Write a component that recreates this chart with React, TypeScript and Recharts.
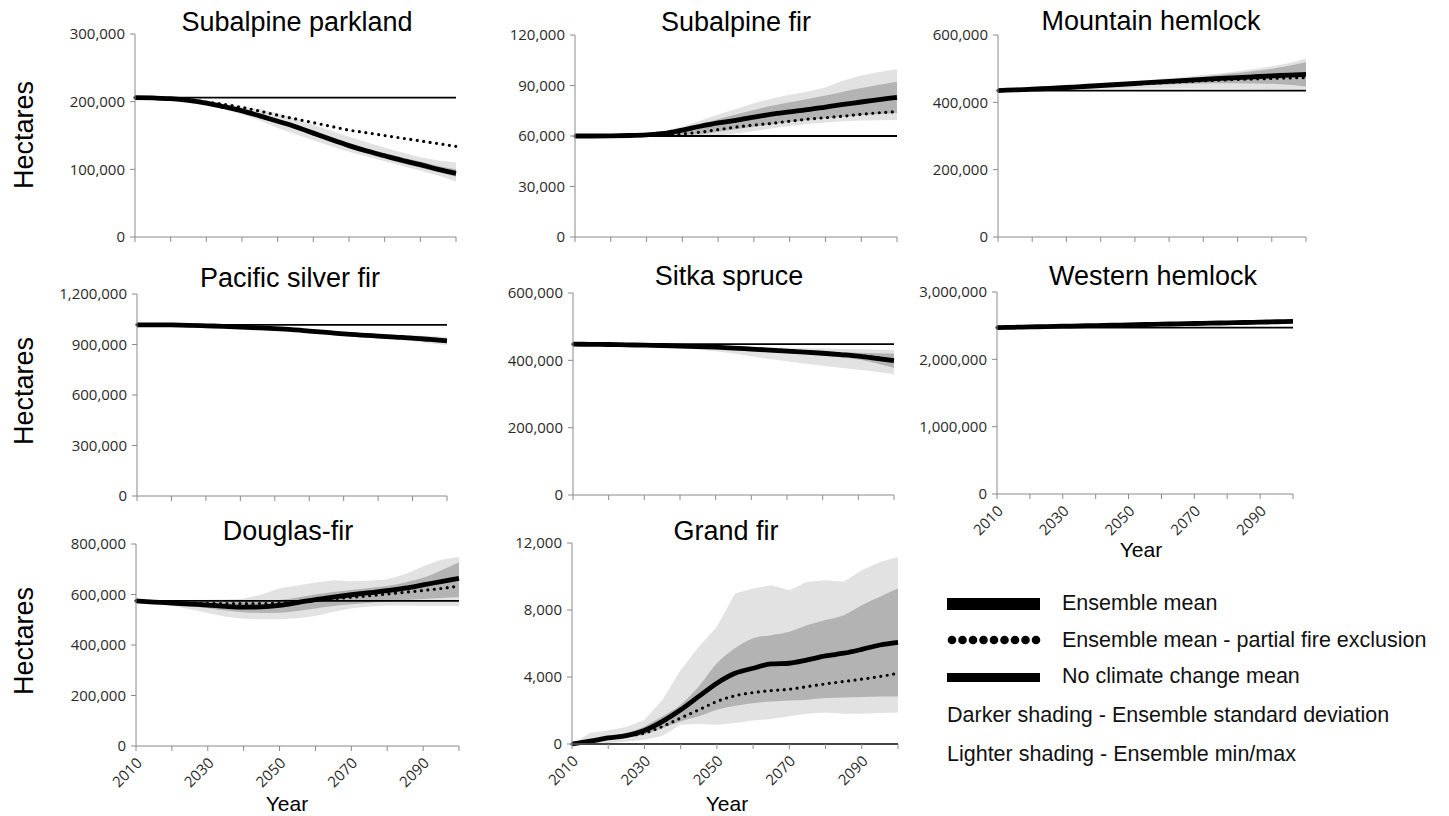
import { Area, ComposedChart, Line, ReferenceLine, XAxis, YAxis } from 'recharts';

const YEARS = [2010, 2015, 2020, 2025, 2030, 2035, 2040, 2045, 2050, 2055, 2060, 2065, 2070, 2075, 2080, 2085, 2090, 2095, 2100];
const YEAR_TICKS = [2010, 2020, 2030, 2040, 2050, 2060, 2070, 2080, 2090, 2100];
const LABELED_YEARS = [2010, 2030, 2050, 2070, 2090];

// Subalpine parkland (ha)
const SP_MEAN = [206000, 205500, 204500, 202000, 198000, 192500, 186500, 179000, 171000, 163000, 153500, 144000, 135000, 127000, 120000, 113000, 107000, 100000, 94000];
const SP_PARTIAL = [206000, 205500, 204500, 203000, 199500, 196000, 191500, 186000, 180000, 174500, 169000, 163500, 158000, 154000, 150000, 146000, 142000, 138000, 134000];
const SP_MIN = [206000, 205000, 203500, 200000, 195000, 188500, 181000, 172000, 161000, 152000, 143000, 134000, 126000, 119000, 112000, 105000, 98000, 91000, 82000];
const SP_MAX = [206000, 206000, 205500, 204000, 201000, 197000, 193000, 189000, 183000, 175000, 166000, 157000, 148000, 140000, 132000, 125000, 118000, 113000, 110000];
const SP_SD_LO = [206000, 205300, 204000, 201500, 197000, 191000, 184500, 176500, 168000, 159500, 150000, 140500, 131500, 123500, 116000, 109000, 102500, 96000, 89000];
const SP_SD_HI = [206000, 205700, 205000, 202500, 199000, 194000, 188500, 181500, 174000, 166500, 157500, 148000, 139000, 131000, 124000, 117500, 111500, 105000, 100000];
const SP_NO_CHANGE = 206000;

// Subalpine fir
const SF_MEAN = [60000, 60000, 60100, 60300, 60700, 61500, 63500, 65800, 67800, 69300, 71200, 73000, 74300, 75600, 77200, 78800, 80200, 81600, 83000];
const SF_PARTIAL = [60000, 60000, 60000, 60100, 60300, 60600, 61200, 62300, 63800, 65300, 66500, 67500, 68800, 70000, 70900, 71800, 72900, 73800, 74500];
const SF_MIN = [60000, 60000, 59900, 59800, 59700, 59600, 59500, 59800, 60300, 61500, 63000, 64500, 66000, 67200, 68000, 68700, 69200, 69400, 69500];
const SF_MAX = [60000, 60100, 60300, 60700, 61500, 63000, 65500, 69000, 72800, 76000, 79500, 82300, 84500, 86500, 88800, 93000, 96000, 98000, 99800];
const SF_SD_LO = [60000, 60000, 60000, 60100, 60300, 60600, 60800, 61000, 62500, 64000, 65500, 67000, 68300, 69500, 70500, 71400, 72300, 73000, 73700];
const SF_SD_HI = [60000, 60000, 60100, 60400, 60900, 61800, 64000, 67000, 70000, 72800, 75500, 78000, 80000, 82000, 84000, 86300, 88500, 90500, 92300];
const SF_NO_CHANGE = 60000;

// Mountain hemlock
const MH_MEAN = [435000, 437000, 439000, 441500, 444000, 447000, 450000, 453000, 456000, 459000, 462000, 465000, 468000, 471000, 473500, 476000, 478500, 481000, 483000];
const MH_PARTIAL = [435000, 437000, 439000, 441000, 443500, 446000, 449000, 451500, 454000, 456500, 459000, 461500, 464000, 466000, 468000, 469500, 471000, 472500, 473500];
const MH_MIN = [435000, 436000, 437000, 438000, 439000, 439500, 440000, 440500, 441000, 441000, 441000, 441000, 440500, 440000, 440000, 439500, 439000, 438500, 438000];
const MH_MAX = [435000, 437500, 440000, 443000, 446500, 450000, 454000, 458000, 462500, 467000, 471500, 476000, 481000, 486000, 492000, 499000, 507000, 516000, 530000];
const MH_SD_LO = [435000, 436500, 438000, 440000, 442000, 444000, 446000, 448000, 450000, 451500, 453000, 454500, 456000, 457000, 457000, 456000, 455000, 452000, 447000];
const MH_SD_HI = [435000, 437000, 439500, 442000, 445000, 448500, 452000, 455500, 459500, 463500, 468000, 472500, 477000, 482000, 487000, 493000, 500000, 509000, 519000];
const MH_NO_CHANGE = 435000;

// Pacific silver fir
const PSF_MEAN = [1017000, 1017000, 1016000, 1014000, 1011000, 1008000, 1004000, 999000, 994000, 988000, 980000, 972000, 963000, 956000, 950000, 944000, 938000, 930000, 922000];
const PSF_PARTIAL = [1017000, 1017000, 1016000, 1014000, 1011000, 1008000, 1004000, 999500, 995000, 989000, 981500, 974000, 965500, 958500, 953000, 947000, 941500, 934000, 926000];
const PSF_MIN = [1017000, 1016000, 1015000, 1013000, 1009000, 1005000, 1000000, 994000, 988000, 981000, 972000, 963000, 953000, 944000, 936000, 928000, 920000, 908000, 895000];
const PSF_MAX = [1017000, 1017000, 1017000, 1015000, 1013000, 1011000, 1008000, 1004000, 1000000, 995000, 989000, 983000, 976000, 970000, 965000, 960000, 955000, 950000, 945000];
const PSF_SD_LO = [1017000, 1017000, 1015500, 1013500, 1010000, 1006500, 1002000, 996500, 991000, 984500, 976000, 967500, 958000, 951000, 944000, 937500, 931000, 922000, 912000];
const PSF_SD_HI = [1017000, 1017000, 1016500, 1014500, 1012000, 1009500, 1006000, 1001500, 997000, 991500, 984000, 976500, 968000, 961000, 956000, 950500, 945000, 938000, 932000];
const PSF_NO_CHANGE = 1017000;

// Sitka spruce
const SS_MEAN = [448000, 447500, 447000, 446000, 445000, 444000, 442500, 441000, 439000, 436500, 433500, 430500, 427500, 424500, 421000, 417000, 412500, 406000, 399000];
const SS_PARTIAL = [448000, 447500, 447000, 446000, 445000, 444000, 442500, 441000, 439500, 437500, 435000, 432000, 429000, 426000, 422500, 419000, 414500, 408500, 402000];
const SS_MIN = [448000, 447000, 446000, 444500, 442500, 440000, 436500, 432500, 427000, 420000, 412000, 404000, 397000, 390000, 384000, 378000, 372000, 366000, 359000];
const SS_MAX = [448000, 448000, 447500, 447000, 446500, 446000, 445000, 444000, 443000, 442000, 440500, 439000, 437500, 436000, 435000, 434000, 433000, 432000, 431000];
const SS_SD_LO = [448000, 447300, 446700, 445400, 444200, 443000, 441000, 439200, 436700, 433500, 429700, 426000, 422500, 419000, 414500, 409000, 402500, 391000, 378000];
const SS_SD_HI = [448000, 447700, 447300, 446600, 445800, 445000, 444000, 442800, 441300, 439500, 437300, 435000, 432500, 430000, 427500, 425000, 422500, 421000, 420000];
const SS_NO_CHANGE = 448000;

// Western hemlock
const WH_MEAN = [2471000, 2476000, 2482000, 2487000, 2492000, 2497000, 2502000, 2507000, 2512000, 2517000, 2522000, 2527000, 2532000, 2537000, 2542000, 2547000, 2552000, 2558000, 2563000];
const WH_PARTIAL = [2471000, 2475000, 2480000, 2485000, 2490000, 2495000, 2500000, 2504000, 2509000, 2514000, 2519000, 2524000, 2529000, 2534000, 2539000, 2544000, 2549000, 2554000, 2559000];
const WH_MIN = [2471000, 2474000, 2479000, 2483000, 2487000, 2491000, 2495000, 2499000, 2503000, 2508000, 2512000, 2516000, 2520000, 2525000, 2529000, 2533000, 2537000, 2542000, 2546000];
const WH_MAX = [2471000, 2478000, 2484000, 2490000, 2496000, 2502000, 2508000, 2514000, 2520000, 2526000, 2532000, 2538000, 2543000, 2549000, 2554000, 2560000, 2566000, 2572000, 2578000];
const WH_SD_LO = [2471000, 2475000, 2480000, 2485000, 2490000, 2494000, 2499000, 2504000, 2508000, 2513000, 2518000, 2523000, 2527000, 2532000, 2537000, 2542000, 2546000, 2551000, 2556000];
const WH_SD_HI = [2471000, 2477000, 2483000, 2489000, 2494000, 2499000, 2505000, 2510000, 2515000, 2521000, 2526000, 2531000, 2537000, 2542000, 2547000, 2552000, 2558000, 2564000, 2570000];
const WH_NO_CHANGE = 2471000;

// Douglas-fir
const DF_MEAN = [575000, 570000, 566000, 562000, 558000, 553000, 550000, 551000, 557000, 568000, 580000, 590000, 599000, 607000, 615000, 625000, 638000, 651000, 664000];
const DF_PARTIAL = [575000, 571000, 568000, 566000, 565000, 564000, 563500, 564000, 566000, 570000, 576000, 583000, 589000, 595000, 602000, 609000, 616000, 624000, 633000];
const DF_MIN = [575000, 566000, 555000, 542000, 527000, 512000, 504000, 502000, 502000, 506000, 515000, 532000, 545000, 552000, 556000, 556000, 554000, 554000, 554000];
const DF_MAX = [578000, 578000, 578000, 578000, 579000, 580000, 583000, 600000, 625000, 636000, 648000, 656000, 652000, 654000, 660000, 680000, 712000, 738000, 750000];
const DF_SD_LO = [574000, 568000, 561000, 554000, 546000, 537000, 530000, 527000, 528000, 535000, 545000, 554000, 561000, 567000, 572000, 577000, 582000, 586000, 590000];
const DF_SD_HI = [576000, 574000, 572000, 571000, 571000, 572000, 574000, 576000, 578000, 588000, 600000, 610000, 618000, 626000, 634000, 648000, 666000, 695000, 728000];
const DF_NO_CHANGE = 575000;

// Grand fir
const GF_MEAN = [0, 170, 360, 500, 810, 1350, 2040, 2840, 3630, 4220, 4520, 4780, 4820, 5020, 5260, 5420, 5650, 5910, 6070];
const GF_PARTIAL = [0, 150, 350, 480, 650, 1050, 1550, 2040, 2540, 2880, 3070, 3190, 3270, 3430, 3590, 3730, 3870, 4030, 4220];
const GF_MIN = [0, 0, 50, 150, 250, 500, 1150, 1200, 1150, 1250, 1400, 1500, 1650, 1800, 1880, 1800, 1800, 1850, 1880];
const GF_MAX = [0, 650, 810, 1010, 1450, 2640, 4420, 5800, 7000, 8980, 9280, 9480, 9180, 9680, 9780, 9680, 10370, 10870, 11160];
const GF_SD_LO = [0, 50, 250, 380, 555, 950, 1350, 1650, 2040, 2280, 2440, 2540, 2600, 2640, 2740, 2780, 2800, 2840, 2840];
const GF_SD_HI = [0, 200, 450, 650, 1050, 1650, 2340, 3430, 4820, 5710, 6310, 6500, 6700, 7100, 7400, 7690, 8290, 8790, 9280];
const GF_NO_CHANGE = 0;

const LEGEND_LABELS = [
  'Ensemble mean',
  'Ensemble mean - partial fire exclusion',
  'No climate change mean',
  'Darker shading - Ensemble standard deviation',
  'Lighter shading - Ensemble min/max',
];

const LIGHT = '#e2e2e2';
const DARK = '#b3b3b3';
const AXIS = '#8a8a8a';
const TITLE_FONT = '"Liberation Sans", Arial, sans-serif';
const TICK_FONT = '"Open Sans", sans-serif';
const Y_AXIS_W = 90;
const PAD = 12;

interface Panel {
  title: string;
  mean: number[];
  partial: number[];
  min: number[];
  max: number[];
  sdLo: number[];
  sdHi: number[];
  noChange: number;
  yTicks: number[];
  yearLabels: boolean;
  // plot box: left, right, top, bottom (px)
  box: [number, number, number, number];
  titleAt: [number, number];
}

const PANELS: Panel[] = [
  { title: 'Subalpine parkland', mean: SP_MEAN, partial: SP_PARTIAL, min: SP_MIN, max: SP_MAX, sdLo: SP_SD_LO, sdHi: SP_SD_HI, noChange: SP_NO_CHANGE, yTicks: [0, 100000, 200000, 300000], yearLabels: false, box: [135, 456, 34, 237], titleAt: [297, 31] },
  { title: 'Subalpine fir', mean: SF_MEAN, partial: SF_PARTIAL, min: SF_MIN, max: SF_MAX, sdLo: SF_SD_LO, sdHi: SF_SD_HI, noChange: SF_NO_CHANGE, yTicks: [0, 30000, 60000, 90000, 120000], yearLabels: false, box: [575, 897, 35, 237], titleAt: [736, 31] },
  { title: 'Mountain hemlock', mean: MH_MEAN, partial: MH_PARTIAL, min: MH_MIN, max: MH_MAX, sdLo: MH_SD_LO, sdHi: MH_SD_HI, noChange: MH_NO_CHANGE, yTicks: [0, 200000, 400000, 600000], yearLabels: false, box: [998, 1306, 35, 237], titleAt: [1151, 30] },
  { title: 'Pacific silver fir', mean: PSF_MEAN, partial: PSF_PARTIAL, min: PSF_MIN, max: PSF_MAX, sdLo: PSF_SD_LO, sdHi: PSF_SD_HI, noChange: PSF_NO_CHANGE, yTicks: [0, 300000, 600000, 900000, 1200000], yearLabels: false, box: [137, 447, 294, 496], titleAt: [290, 287] },
  { title: 'Sitka spruce', mean: SS_MEAN, partial: SS_PARTIAL, min: SS_MIN, max: SS_MAX, sdLo: SS_SD_LO, sdHi: SS_SD_HI, noChange: SS_NO_CHANGE, yTicks: [0, 200000, 400000, 600000], yearLabels: false, box: [573, 894, 293, 495], titleAt: [729, 285] },
  { title: 'Western hemlock', mean: WH_MEAN, partial: WH_PARTIAL, min: WH_MIN, max: WH_MAX, sdLo: WH_SD_LO, sdHi: WH_SD_HI, noChange: WH_NO_CHANGE, yTicks: [0, 1000000, 2000000, 3000000], yearLabels: true, box: [997, 1293, 292, 494], titleAt: [1153, 285] },
  { title: 'Douglas-fir', mean: DF_MEAN, partial: DF_PARTIAL, min: DF_MIN, max: DF_MAX, sdLo: DF_SD_LO, sdHi: DF_SD_HI, noChange: DF_NO_CHANGE, yTicks: [0, 200000, 400000, 600000, 800000], yearLabels: true, box: [136, 459, 544, 746], titleAt: [288, 540] },
  { title: 'Grand fir', mean: GF_MEAN, partial: GF_PARTIAL, min: GF_MIN, max: GF_MAX, sdLo: GF_SD_LO, sdHi: GF_SD_HI, noChange: GF_NO_CHANGE, yTicks: [0, 4000, 8000, 12000], yearLabels: true, box: [572, 898, 543, 744], titleAt: [726, 540] },
];

// "Hectares" at each row, "Year" under the bottom panels
const HECTARES_AT = [135, 391, 641];
const YEAR_AT: [number, number][] = [[1141, 557], [287, 811], [727, 811]];

function YearTick(props: any) {
  const { x, y, payload, show } = props;
  if (!show || !LABELED_YEARS.includes(payload.value)) return <g />;
  const tx = x + 7;
  const ty = y + 11;
  return (
    <text
      x={tx}
      y={ty}
      transform={`rotate(-45 ${tx} ${ty})`}
      textAnchor="end"
      fontSize={15}
      fontFamily={TICK_FONT}
      fill="#2a2a2a"
    >
      {payload.value}
    </text>
  );
}

function SpeciesChart({ panel }: { panel: Panel }) {
  const [x0, x1, y0, y1] = panel.box;
  const rows = YEARS.map((year, i) => ({
    year,
    mean: panel.mean[i],
    partial: panel.partial[i],
    light: [panel.min[i], panel.max[i]],
    dark: [panel.sdLo[i], panel.sdHi[i]],
  }));
  const top = panel.yTicks[panel.yTicks.length - 1];

  return (
    <div style={{ position: 'absolute', left: x0 - Y_AXIS_W, top: y0 - PAD }}>
      <ComposedChart
        width={x1 - x0 + Y_AXIS_W + PAD}
        height={y1 - y0 + PAD + 60}
        data={rows}
        margin={{ top: PAD, right: PAD, bottom: 0, left: 0 }}
      >
        <XAxis
          type="number"
          dataKey="year"
          domain={[2010, 2100]}
          ticks={YEAR_TICKS}
          interval={0}
          height={60}
          tickSize={5}
          axisLine={{ stroke: AXIS }}
          tickLine={{ stroke: AXIS }}
          tick={(p: any) => <YearTick {...p} show={panel.yearLabels} />}
        />
        <YAxis
          type="number"
          domain={[0, top]}
          ticks={panel.yTicks}
          interval={0}
          width={Y_AXIS_W}
          tickSize={5}
          tickMargin={5}
          axisLine={{ stroke: AXIS }}
          tickLine={{ stroke: AXIS }}
          tick={{ fontSize: 15, fontFamily: TICK_FONT, fill: '#2a2a2a' }}
          tickFormatter={(v: number) => v.toLocaleString('en-US')}
        />
        <Area dataKey="light" type="linear" stroke="none" fill={LIGHT} fillOpacity={1} isAnimationActive={false} />
        <Area dataKey="dark" type="monotone" stroke="none" fill={DARK} fillOpacity={1} isAnimationActive={false} />
        <ReferenceLine y={panel.noChange} stroke="#000" strokeWidth={1.8} />
        <Line dataKey="mean" type="monotone" stroke="#000" strokeWidth={4.8} dot={false} activeDot={false} isAnimationActive={false} />
        <Line
          dataKey="partial"
          type="monotone"
          stroke="#000"
          strokeWidth={3.2}
          strokeDasharray="0 6.5"
          strokeLinecap="round"
          dot={false}
          activeDot={false}
          isAnimationActive={false}
        />
      </ComposedChart>
    </div>
  );
}

function Legend() {
  const dots = [0, 1, 2, 3, 4, 5, 6, 7, 8];
  return (
    <svg style={{ position: 'absolute', left: 940, top: 585 }} width={509} height={200}>
      <rect x={7} y={13} width={93} height={12} fill="#000" />
      {dots.map((d) => (
        <circle key={d} cx={12 + d * 10.5} cy={55} r={4.3} fill="#000" />
      ))}
      <rect x={7} y={88} width={93} height={9} fill="#000" />
      <g fontFamily={TITLE_FONT} fontSize={21.5} fill="#111">
        <text x={122} y={25}>{LEGEND_LABELS[0]}</text>
        <text x={122} y={62}>{LEGEND_LABELS[1]}</text>
        <text x={122} y={98}>{LEGEND_LABELS[2]}</text>
        <text x={7} y={137}>{LEGEND_LABELS[3]}</text>
        <text x={7} y={176}>{LEGEND_LABELS[4]}</text>
      </g>
    </svg>
  );
}

export default function App() {
  return (
    <div style={{ position: 'absolute', left: 0, top: 0, width: 1449, height: 816, background: '#fff', overflow: 'hidden' }}>
      {PANELS.map((p) => (
        <SpeciesChart key={p.title} panel={p} />
      ))}
      <svg style={{ position: 'absolute', left: 0, top: 0, pointerEvents: 'none' }} width={1449} height={816}>
        <g fontFamily={TITLE_FONT} fill="#000" textAnchor="middle">
          {PANELS.map((p) => (
            <text key={p.title} x={p.titleAt[0]} y={p.titleAt[1]} fontSize={27}>
              {p.title}
            </text>
          ))}
          {HECTARES_AT.map((cy) => (
            <text key={cy} x={33} y={cy} fontSize={27} transform={`rotate(-90 33 ${cy})`}>
              Hectares
            </text>
          ))}
          {YEAR_AT.map(([cx, by]) => (
            <text key={cx} x={cx} y={by} fontSize={21}>
              Year
            </text>
          ))}
        </g>
      </svg>
      <Legend />
    </div>
  );
}
